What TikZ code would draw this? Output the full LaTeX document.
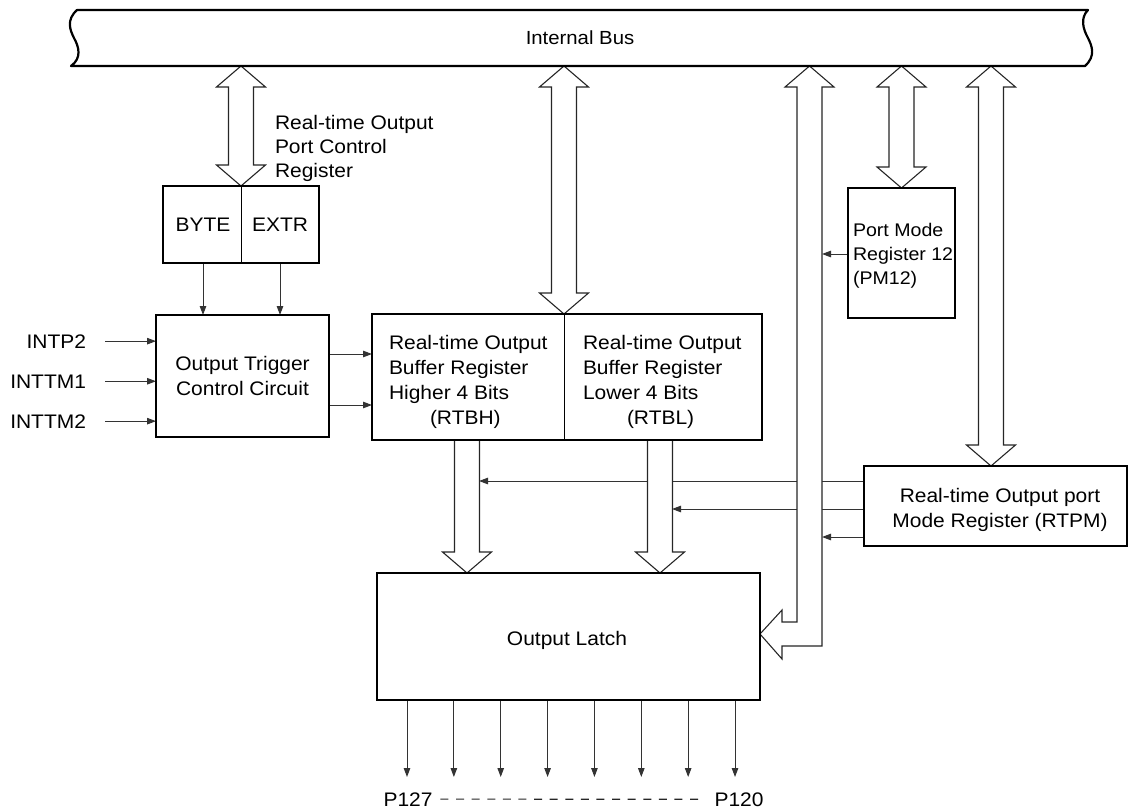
\documentclass[tikz,border=0pt]{standalone}
\usepackage{fontspec}
\setmainfont{Liberation Sans}[FakeStretch=1.07]
\usetikzlibrary{arrows.meta,calc}
\pgfdeclarelayer{back}
\pgfsetlayers{back,main}
\newcommand\hdbl[2]{\filldraw[hollow] let \p1=(#1), \p2=(#2) in
 (\x1,\y1) -- (\x1+24.5pt,\y1-21pt) -- (\x1+12.5pt,\y1-21pt) -- (\x1+12.5pt,\y2+21pt) -- (\x1+24.5pt,\y2+21pt) -- (\x1,\y2) -- (\x1-24.5pt,\y2+21pt) -- (\x1-12.5pt,\y2+21pt) -- (\x1-12.5pt,\y1-21pt) -- (\x1-24.5pt,\y1-21pt) -- cycle;}
\newcommand\hdown[2]{\filldraw[hollow] let \p1=(#1), \p2=(#2) in
 (\x1-12.5pt,\y1) -- (\x1-12.5pt,\y2+21pt) -- (\x1-24.5pt,\y2+21pt) -- (\x1,\y2) -- (\x1+24.5pt,\y2+21pt) -- (\x1+12.5pt,\y2+21pt) -- (\x1+12.5pt,\y1);}
\begin{document}
\begin{tikzpicture}[x=1pt,y=-1pt,
  font=\fontsize{19.6}{24}\selectfont,
  box/.style={draw, line width=2.6pt, inner sep=0pt, outer sep=0pt},
  lbl/.style={inner sep=0pt, outer sep=0pt, align=left},
  sarr/.style={line width=1pt, draw=black!80, -{Triangle[length=9pt,width=6.5pt]}},
  hollow/.style={line width=1.1pt, draw=black!85, fill=white, line join=miter},
  divider/.style={line width=1pt},
  busline/.style={line width=2.2pt, line join=round}]
\useasboundingbox (0,0) rectangle (1129,808);

% internal bus
\draw[busline] (77,10) -- (1088,10) .. controls (1080,18) and (1083,29) .. (1088,38)
  .. controls (1092,46) and (1096,56) .. (1085,66) -- (71,66)
  .. controls (82,58) and (79,47) .. (74,38) .. controls (70,30) and (66,20) .. (77,10) -- cycle;
\node[lbl, font=\fontsize{19}{22}\selectfont] (bus) at (580,38) {Internal Bus};
\coordinate (busbot) at (0,66);

% boxes
\node[box, minimum width=156pt, minimum height=77pt] (pcr) at (241,224.5) {};
\draw[divider] (pcr.north) -- (pcr.south);
\node[lbl] (byte) at (203,225) {BYTE};
\node[lbl] (extr) at (280,225) {EXTR};
\node[lbl, anchor=north west, font=\fontsize{19.6}{24}\selectfont] (pcrlbl) at (275,115.7)
  {Real-time Output\\Port Control\\Register};

\node[box, minimum width=173pt, minimum height=122pt, align=center, font=\fontsize{19.6}{25}\selectfont]
  (otcc) at (242.5,376) {Output Trigger\\Control Circuit};

\node[box, minimum width=390pt, minimum height=126pt] (rtb) at (567,377) {};
\coordinate (rtbdiv) at (564,314);
\draw[divider] (rtbdiv) -- (rtbdiv |- rtb.south);
\node[lbl, anchor=north west, font=\fontsize{19.6}{25}\selectfont] (rtbh) at (389,335.7)
  {Real-time Output\\Buffer Register\\Higher 4 Bits\\\hspace*{41pt}(RTBH)};
\node[lbl, anchor=north west, font=\fontsize{19.6}{25}\selectfont] (rtbl) at (583,335.7)
  {Real-time Output\\Buffer Register\\Lower 4 Bits\\\hspace*{44pt}(RTBL)};

\node[box, minimum width=107pt, minimum height=130pt] (pm12) at (901.5,253) {};
\node[lbl, anchor=north west, font=\fontsize{18.3}{24}\selectfont] (pm12lbl) at (853,223.5)
  {Port Mode\\Register 12\\(PM12)};

\node[box, minimum width=263pt, minimum height=80pt] (rtpm) at (995.5,506) {};
\node[lbl, anchor=north, align=center, font=\fontsize{19.6}{25}\selectfont] (rtpmlbl) at (1000,488.7)
  {Real-time Output port\\Mode Register (RTPM)};

\node[box, minimum width=383pt, minimum height=127pt] (latch) at (568.5,636.5) {};
\node[lbl] (latchlbl) at (567,640) {Output Latch};

% input labels
\node[lbl, anchor=base east] (intp2) at (86,348) {INTP2};
\node[lbl, anchor=base east] (inttm1) at (86,388) {INTTM1};
\node[lbl, anchor=base east] (inttm2) at (86,428) {INTTM2};

% output labels
\node[lbl, anchor=base] (p127) at (408,806) {P127};
\node[lbl, anchor=base] (p120) at (739,806) {P120};
\draw[line width=1.1pt, draw=black!85, dash pattern=on 8pt off 7.6pt] ([xshift=8pt]p127.east) -- ([xshift=-9pt]p120.west);

% column coordinates
\coordinate (hx) at (467,0);
\coordinate (lx) at (660,0);
\coordinate (rx) at (991,0);
\coordinate (bt) at (809.5,66);
\coordinate (bl) at (760,634);

\begin{pgfonlayer}{back}
% small arrows
\draw[sarr] ([xshift=19pt]intp2.east) -- (intp2.east -| otcc.west);
\draw[sarr] ([xshift=19pt]inttm1.east) -- (inttm1.east -| otcc.west);
\draw[sarr] ([xshift=19pt]inttm2.east) -- (inttm2.east -| otcc.west);
\draw[sarr] (byte |- pcr.south) -- (byte |- otcc.north);
\draw[sarr] (extr |- pcr.south) -- (extr |- otcc.north);
\draw[sarr] ([yshift=22pt]otcc.east) -- ++(43,0);
\draw[sarr] ([yshift=-29pt]otcc.east) -- ++(43,0);
\draw[sarr] ([yshift=-1pt]pm12.west) -- ++(-26,0);
\draw[sarr] ([yshift=25pt]rtpm.west) -- ++(-385,0);
\draw[sarr] ([yshift=-3pt]rtpm.west) -- ++(-192,0);
\draw[sarr] ([yshift=-31pt]rtpm.west) -- ++(-42,0);
\foreach \i in {0,...,7}
  \draw[sarr] ([xshift={30+46.86*\i}]latch.south west) -- ++(0,77);

% hollow bus arrows
\hdbl{pcr.north |- busbot}{pcr.north}
\hdbl{rtbdiv |- busbot}{rtbdiv}
\hdbl{pm12.north |- busbot}{pm12.north}
\hdbl{rx |- busbot}{rx |- rtpm.north}
\hdown{hx |- rtb.south}{hx |- latch.north}
\hdown{lx |- rtb.south}{lx |- latch.north}
\filldraw[hollow] (bt) -- (834,87) -- (822,87) -- (822,646) -- (782,646) -- (782,659)
  -- (bl) -- (782,610) -- (782,622) -- (797,622) -- (797,87) -- (785,87) -- cycle;
\end{pgfonlayer}
\end{tikzpicture}
\end{document}
